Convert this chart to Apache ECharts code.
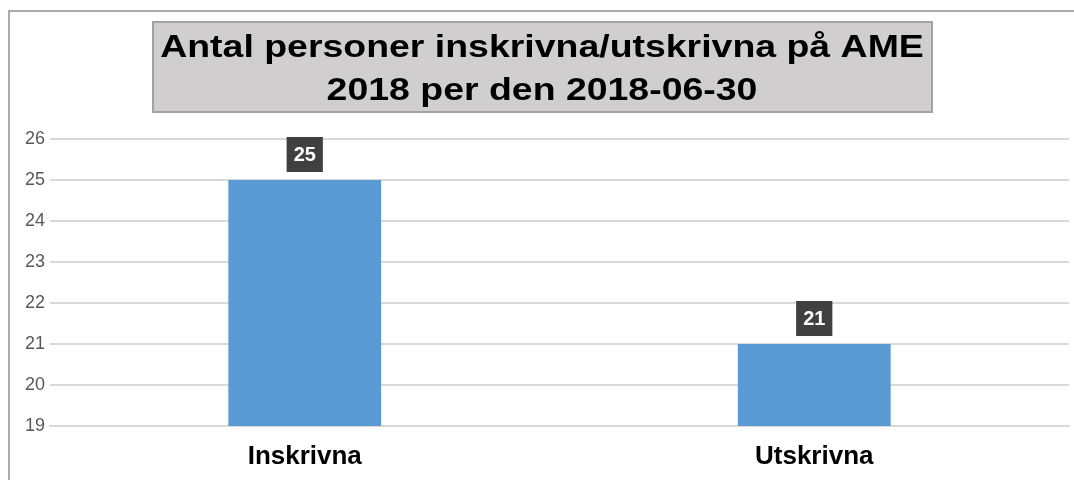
<!DOCTYPE html>
<html>
<head>
<meta charset="utf-8">
<script src="https://cdn.jsdelivr.net/npm/echarts@6/dist/echarts.min.js"></script>
<style>
  html, body { margin: 0; padding: 0; background: #fff; }
  #main { width: 1074px; height: 480px; }
</style>
</head>
<body>
<div id="main"></div>
<script>
// chart data
var titleText = 'Antal personer inskrivna/utskrivna på AME\n2018 per den 2018-06-30';
var categories = ['Inskrivna', 'Utskrivna'];
var values = [25, 21];
var yMin = 19, yMax = 26, yStep = 1;

var myChart = echarts.init(document.getElementById('main'));
var option = {
    backgroundColor: '#fff',
    animation: false,
    graphic: [{
        // outer chart border
        type: 'rect',
        shape: { x: 9, y: 11, width: 1100, height: 500 },
        style: { fill: 'none', stroke: '#ABABAB', lineWidth: 2 },
        silent: true,
        z: -1
    }, {
        // title box
        type: 'rect',
        shape: { x: 153, y: 22, width: 779, height: 90 },
        style: { fill: '#D0CECE', stroke: '#A3A3A3', lineWidth: 2 },
        silent: true
    }, {
        type: 'text',
        x: 542,
        y: 70,
        scaleX: 1.17,
        silent: true,
        style: {
            text: titleText,
            x: 0,
            y: 0,
            align: 'center',
            verticalAlign: 'middle',
            fontFamily: 'Liberation Sans',
            fontWeight: 'bold',
            fontSize: 32,
            lineHeight: 43,
            fill: '#000'
        }
    }],
    grid: { left: 50, right: 5, top: 139, bottom: 54 },
    xAxis: {
        type: 'category',
        data: categories,
        axisLine: { show: true, lineStyle: { color: '#D9D9D9', width: 2 } },
        axisTick: { show: false },
        axisLabel: {
            margin: 18,
            fontFamily: 'Liberation Sans',
            fontWeight: 'bold',
            fontSize: 26,
            color: '#000'
        }
    },
    yAxis: {
        type: 'value',
        min: yMin,
        max: yMax,
        interval: yStep,
        axisLine: { show: false },
        axisTick: { show: false },
        splitLine: { lineStyle: { color: '#D9D9D9', width: 2 } },
        axisLabel: {
            margin: 5,
            fontFamily: 'Liberation Sans',
            fontSize: 18,
            color: '#595959'
        }
    },
    series: [{
        type: 'bar',
        data: values,
        barWidth: '30%',
        itemStyle: { color: '#5B9BD5' },
        label: {
            show: true,
            position: 'top',
            distance: 8,
            backgroundColor: '#404040',
            padding: [8, 7, 7, 7],
            color: '#fff',
            fontFamily: 'Liberation Sans',
            fontWeight: 'bold',
            fontSize: 20
        }
    }]
};
myChart.setOption(option);
</script>
</body>
</html>
